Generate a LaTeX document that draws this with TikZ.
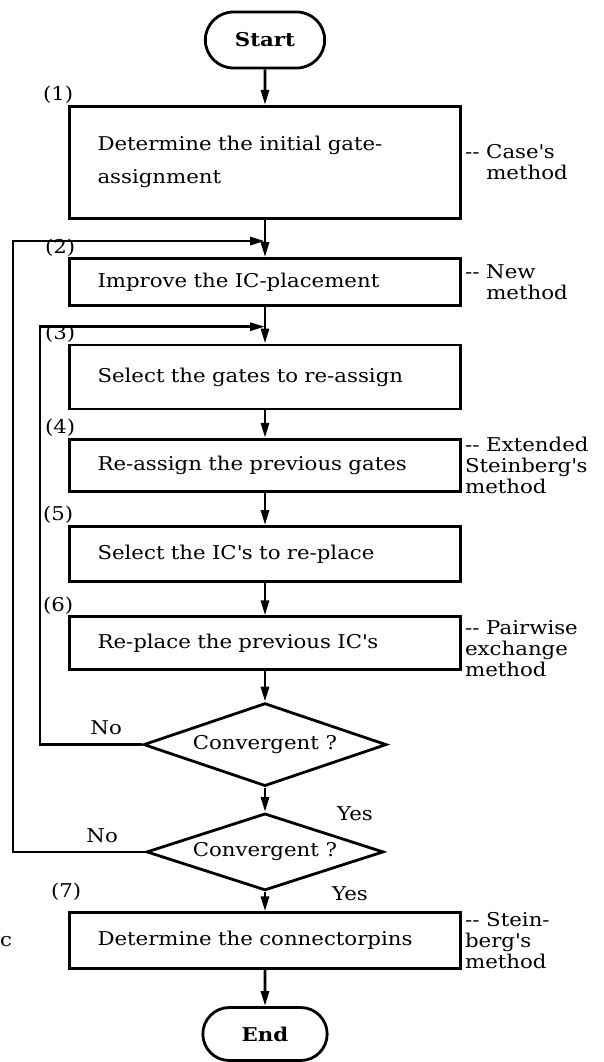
\documentclass[tikz,border=0pt]{standalone}
\usepackage{fontspec}
\setmainfont{DejaVu Serif}[FakeStretch=1.12]
\usetikzlibrary{positioning, shapes.misc, shapes.geometric, arrows.meta, calc}

\begin{document}
\begin{tikzpicture}[
    x=1pt, y=1pt,
    >={Triangle[length=15pt, width=8pt]},
    every node/.style={font=\fontsize{19}{21}\selectfont},
    term/.style={draw, rounded rectangle, line width=2.8pt, minimum width=126pt, minimum height=56pt, font=\fontsize{19}{21}\selectfont\bfseries},
    stepbox/.style={draw, line width=2.8pt, text width=335pt, inner xsep=28pt, align=left},
    decision/.style={draw, diamond, aspect=2.9, line width=2.8pt, inner sep=0pt},
    numlbl/.style={anchor=south, inner sep=1pt},
    method/.style={anchor=west, align=left, inner xsep=3pt, font=\fontsize{19}{21}\selectfont},
    arr/.style={->, line width=2.8pt},
]
\useasboundingbox (0,0) rectangle (603,-1062);

% === Main flow (top to bottom) ===
\node[term] (start) at (265,-40) {Start};
\node[stepbox, below=35.5pt of start, minimum height=112pt, font=\fontsize{19}{33}\selectfont] (assign) {Determine the initial gate-\\assignment};
\node[stepbox, below=37.5pt of assign, minimum height=47pt] (improve) {Improve the IC-placement};
\node[stepbox, below=36.5pt of improve, minimum height=64pt] (selgates) {Select the gates to re-assign};
\node[stepbox, below=27.5pt of selgates, minimum height=52pt] (reassign) {Re-assign the previous gates};
\node[stepbox, below=32.5pt of reassign, minimum height=55pt] (selics) {Select the IC\textquotesingle s to re-place};
\node[stepbox, below=32.5pt of selics, minimum height=53pt] (replace) {Re-place the previous IC\textquotesingle s};
\node[decision, below=30.5pt of replace, minimum width=243pt, minimum height=83pt] (conv_in) {Convergent ?};
\node[decision, below=24.5pt of conv_in, minimum width=237pt, minimum height=77pt] (conv_out) {Convergent ?};
\node[stepbox, below=19.5pt of conv_out, minimum height=56pt] (pins) {Determine the connectorpins};
\node[term, below=36pt of pins, minimum width=131pt, minimum height=53pt] (end) {End};

% step numbers
\node[numlbl] at ([xshift=-10pt]assign.north west) {(1)};
\node[numlbl] at ([xshift=-8pt]improve.north west) {(2)};
\node[numlbl] at ([xshift=-8pt]selgates.north west) {(3)};
\node[numlbl] at ([xshift=-8pt]reassign.north west) {(4)};
\node[numlbl] at ([xshift=-10pt]selics.north west) {(5)};
\node[numlbl] at ([xshift=-10pt]replace.north west) {(6)};
\node[numlbl] at ([xshift=-2pt, yshift=10pt]pins.north west) {(7)};

% === Main arrows ===
\draw[arr] (start) -- (assign);
\draw[arr] (assign) -- (improve);
\draw[arr] (improve) -- (selgates);
\draw[arr] (selgates) -- (reassign);
\draw[arr] (reassign) -- (selics);
\draw[arr] (selics) -- (replace);
\draw[arr] (replace) -- (conv_in);
\draw[arr] (conv_in) -- (conv_out);
\draw[arr] (conv_out) -- (pins);
\draw[arr] (pins) -- (end);

% === Feedback loops ===
\coordinate (outer_join) at ($(assign.south)!0.57!(improve.north)$);
\coordinate (inner_join) at ($(improve.south)!0.54!(selgates.north)$);
\coordinate (outer_x) at (13,0);
\coordinate (inner_x) at (40,0);
\draw[arr] (conv_out.west) -- (conv_out.west -| outer_x) |- (outer_join);
\draw[arr] (conv_in.west) -- (conv_in.west -| inner_x) |- (inner_join);

\node at ([xshift=-36pt, yshift=17pt]conv_in.west) {No};
\node at ([xshift=-43pt, yshift=16pt]conv_out.west) {No};
\node at ([xshift=90pt, yshift=-2pt]conv_out.north) {Yes};
\node at ([xshift=85pt, yshift=-2pt]conv_out.south) {Yes};

% === Methods on the right ===
\node[method] at (assign.east) {-{}- Case\textquotesingle s\\\phantom{-{}- }method};
\node[method] at (improve.east) {-{}- New\\\phantom{-{}- }method};
\node[method] at (reassign.east) {-{}- Extended\\Steinberg\textquotesingle s\\method};
\node[method] at ([yshift=-5pt]replace.east) {-{}- Pairwise\\exchange\\method};
\node[method] at (pins.east) {-{}- Stein-\\berg\textquotesingle s\\method};

\node[anchor=west, inner sep=0pt] (cut) at (0,-942) {c};

\end{tikzpicture}
\end{document}
